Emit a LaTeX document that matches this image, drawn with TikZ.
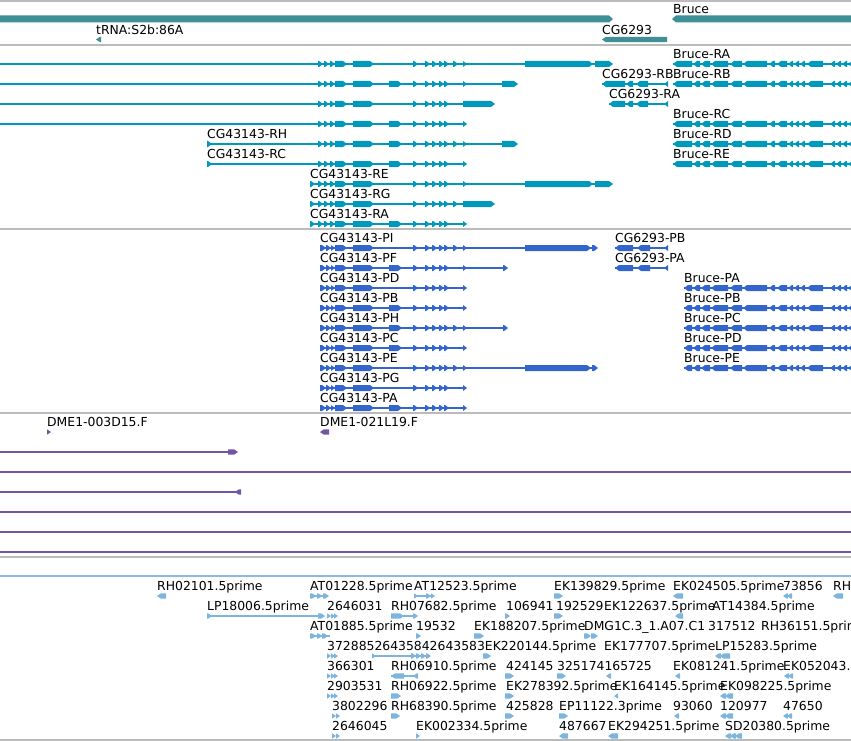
\documentclass[tikz,border=0pt]{standalone}
\usepackage{fontspec}
\setmainfont{DejaVu Sans}
\definecolor{gene}{HTML}{3F8F96}
\definecolor{tx}{HTML}{0099BB}
\definecolor{prot}{HTML}{3366CC}
\definecolor{dme}{HTML}{7355A8}
\definecolor{est}{HTML}{7DB5DF}
\definecolor{sep}{HTML}{BBBBBB}
\definecolor{estsep}{HTML}{88BBDD}
\def\eh{3}
\newcommand\fwd[3]{\fill ({#1},{#3-\eh}) -- ({max(#1,#2-4)},{#3-\eh}) -- ({#2},{#3}) -- ({max(#1,#2-4)},{#3+\eh}) -- ({#1},{#3+\eh}) -- cycle;}
\newcommand\rev[3]{\fill ({#2},{#3-\eh}) -- ({min(#2,#1+4)},{#3-\eh}) -- ({#1},{#3}) -- ({min(#2,#1+4)},{#3+\eh}) -- ({#2},{#3+\eh}) -- cycle;}
\newcommand\hl[3]{\draw ({#1},{#3}) -- ({#2},{#3});}
\newcommand\lab[3]{\node[lbl] at ({#1},{#2-5.4}) {#3};}
% CG43143 pieces
\newcommand\cgA[1]{\fwd{318}{323}{#1}\fwd{324}{329}{#1}\fwd{330}{335}{#1}\fwd{335}{347}{#1}\fwd{353}{374}{#1}}
\newcommand\cgP[1]{\fwd{320}{326}{#1}\fwd{326}{331}{#1}\fwd{331}{335}{#1}\fwd{335}{347}{#1}\fwd{353}{374}{#1}}
\newcommand\cgS[1]{\fwd{389}{402}{#1}}
\newcommand\cgM[1]{\fwd{413}{418}{#1}\fwd{425}{430}{#1}\fwd{432}{437}{#1}\fwd{439}{444}{#1}\fwd{444}{449}{#1}}
\newcommand\cgT[1]{\fwd{453}{458}{#1}}
\newcommand\cgL[1]{\fwd{463}{467}{#1}}
% Bruce pattern
\newcommand\brpat[2]{\hl{#2}{851}{#1}%
 \rev{#2}{692}{#1}\rev{693}{700}{#1}\rev{701}{710}{#1}\rev{711}{728}{#1}\rev{730}{742}{#1}%
 \rev{743}{767}{#1}\rev{769}{775}{#1}\rev{777}{787}{#1}\rev{788}{793}{#1}\rev{794}{799}{#1}%
 \rev{800}{805}{#1}\rev{807}{823}{#1}\rev{830}{835}{#1}\rev{836}{841}{#1}\rev{842}{847}{#1}\rev{848}{853}{#1}}
% CG6293 pattern
\newcommand\cgsix[2]{\hl{#2}{667}{#1}\rev{#2}{625}{#1}\rev{626}{633}{#1}\rev{636}{648}{#1}\rev{664}{668}{#1}}
\begin{document}
\begin{tikzpicture}[x=1pt,y=-1pt,
  lbl/.style={anchor=base west,inner sep=0pt,font=\fontsize{12.4}{14}\selectfont},
  sepl/.style={draw=sep,line width=1.3pt}]
\useasboundingbox (0,0) rectangle (851,741);
\clip (0,0) rectangle (851,741);
\fill[white] (0,0) rectangle (851,741);
% separators
\foreach \yy in {1,45,229,413,557,740} {\draw[sepl] (0,\yy) -- (851,\yy);}
\draw[estsep,line width=1.3pt] (0,576) -- (851,576);

% ---------- gene track ----------
\begin{scope}[fill=gene]
 \def\eh{3.5}
 \fwd{-10}{613}{19}
 \rev{672}{860}{19}
 \def\eh{2.7}
 \rev{96}{101}{39.5}
 \rev{602}{667}{39.5}
\end{scope}
\lab{673}{19}{Bruce}
\lab{96}{39.5}{tRNA:S2b:86A}
\lab{602}{39.5}{CG6293}

% ---------- transcript track ----------
\begin{scope}[draw=tx,fill=tx,line width=1.2pt]
 % row 1
 \hl{0}{600}{64}\cgA{64}\cgM{64}\cgT{64}\cgL{64}\fwd{525}{593}{64}\fwd{595}{613}{64}
 % row 2
 \hl{0}{505}{84}\cgA{84}\cgS{84}\cgM{84}\cgL{84}\fwd{502}{518}{84}
 % row 3
 \hl{0}{470}{104}\cgA{104}\cgM{104}\fwd{463}{495}{104}
 % row 4
 \hl{0}{465}{124}\cgA{124}\cgS{124}\cgM{124}\cgL{124}
 % RH
 \hl{207}{505}{144}\fwd{207}{212}{144}\cgA{144}\cgS{144}\cgM{144}\cgT{144}\cgL{144}\fwd{502}{518}{144}
 % RC
 \hl{207}{465}{164}\fwd{207}{212}{164}\cgA{164}\cgS{164}\cgM{164}\cgL{164}
 % RE
 \hl{310}{600}{184}\fwd{310}{315}{184}\cgA{184}\cgM{184}\cgL{184}\fwd{525}{593}{184}\fwd{595}{613}{184}
 % RG
 \hl{310}{470}{204}\fwd{310}{315}{204}\cgA{204}\cgM{204}\cgT{204}\fwd{463}{495}{204}
 % RA
 \hl{310}{465}{224}\fwd{310}{315}{224}\cgA{224}\cgS{224}\cgM{224}\cgL{224}
 % CG6293
 \cgsix{84}{602}
 \cgsix{104}{609}
 % Bruce
 \foreach \yy in {64,84,124,144,164} {\brpat{\yy}{673}}
\end{scope}
\lab{673}{64}{Bruce-RA}
\lab{602}{84}{CG6293-RB}
\lab{673}{84}{Bruce-RB}
\lab{609}{104}{CG6293-RA}
\lab{673}{124}{Bruce-RC}
\lab{207}{144}{CG43143-RH}
\lab{673}{144}{Bruce-RD}
\lab{207}{164}{CG43143-RC}
\lab{673}{164}{Bruce-RE}
\lab{310}{184}{CG43143-RE}
\lab{310}{204}{CG43143-RG}
\lab{310}{224}{CG43143-RA}

% ---------- protein track ----------
\begin{scope}[draw=prot,fill=prot,line width=1.2pt]
 % PI
 \hl{320}{596}{248}\cgP{248}\cgM{248}\cgT{248}\cgL{248}\fwd{525}{591}{248}\fwd{592}{598}{248}
 % PF
 \hl{320}{506}{268}\cgP{268}\cgS{268}\cgM{268}\cgL{268}\fwd{503}{508}{268}
 % PD
 \hl{320}{465}{288}\cgP{288}\cgM{288}\cgL{288}
 % PB
 \hl{320}{465}{308}\cgP{308}\cgS{308}\cgM{308}\cgL{308}
 % PH
 \hl{320}{506}{328}\cgP{328}\cgS{328}\cgM{328}\cgT{328}\cgL{328}\fwd{503}{508}{328}
 % PC
 \hl{320}{465}{348}\cgP{348}\cgS{348}\cgM{348}\cgL{348}
 % PE
 \hl{320}{596}{368}\cgP{368}\cgM{368}\cgT{368}\cgL{368}\fwd{525}{591}{368}\fwd{592}{598}{368}
 % PG
 \hl{320}{465}{388}\cgP{388}\cgM{388}\cgL{388}
 % PA
 \hl{320}{465}{408}\cgP{408}\cgS{408}\cgM{408}\cgL{408}
 % CG6293 proteins
 \foreach \yy in {248,268} {\hl{615}{667}{\yy}\rev{615}{633}{\yy}\rev{637}{650}{\yy}\rev{664}{668}{\yy}}
 % Bruce proteins
 \foreach \yy in {288,308,328,348,368} {\brpat{\yy}{684}}
\end{scope}
\lab{320}{248}{CG43143-PI}
\lab{320}{268}{CG43143-PF}
\lab{320}{288}{CG43143-PD}
\lab{320}{308}{CG43143-PB}
\lab{320}{328}{CG43143-PH}
\lab{320}{348}{CG43143-PC}
\lab{320}{368}{CG43143-PE}
\lab{320}{388}{CG43143-PG}
\lab{320}{408}{CG43143-PA}
\lab{615}{248}{CG6293-PB}
\lab{615}{268}{CG6293-PA}
\lab{684}{288}{Bruce-PA}
\lab{684}{308}{Bruce-PB}
\lab{684}{328}{Bruce-PC}
\lab{684}{348}{Bruce-PD}
\lab{684}{368}{Bruce-PE}

% ---------- DME track ----------
\begin{scope}[draw=dme,fill=dme,line width=1.3pt]
 \def\eh{2.7}
 \fwd{47}{51}{432}
 \rev{320}{329}{432}
 \hl{0}{230}{452}\fwd{228}{238}{452}
 \hl{0}{851}{472}
 \hl{0}{238}{492}\rev{235}{241}{492}
 \hl{0}{851}{512}
 \hl{0}{851}{532}
 \hl{0}{851}{552}
\end{scope}
\lab{47}{432}{DME1-003D15.F}
\lab{320}{432}{DME1-021L19.F}

% ---------- EST track ----------
\begin{scope}[draw=est,fill=est,line width=1.2pt]
 \def\eh{2.7}
 % row 596
 \rev{157}{166}{596}
 \hl{310}{328}{596}\fwd{310}{316}{596}\fwd{317}{322}{596}\fwd{323}{329}{596}
 \hl{414}{431}{596}\fwd{414}{418}{596}\fwd{426}{431}{596}\fwd{431}{435}{596}
 \fwd{554}{563}{596}
 \rev{673}{683}{596}
 \rev{783}{788}{596}\rev{787}{792}{596}
 \rev{833}{843}{596}
 % row 616
 \hl{207}{320}{616}\fwd{207}{212}{616}\fwd{318}{325}{616}
 \fwd{327}{331}{616}\fwd{331}{335}{616}\fwd{334}{338}{616}
 \hl{391}{416}{616}\fwd{391}{404}{616}\fwd{413}{418}{616}
 \fwd{505}{510}{616}
 \fwd{554}{563}{616}
 \rev{675}{683}{616}
 % row 636
 \hl{310}{330}{636}\fwd{310}{316}{636}\fwd{317}{322}{636}\fwd{322}{328}{636}
 \fwd{416}{421}{636}
 \fwd{474}{484}{636}
 \fwd{584}{591}{636}\fwd{591}{598}{636}
 % row 656
 \fwd{327}{331}{656}\fwd{331}{335}{656}\fwd{334}{338}{656}
 \hl{372}{428}{656}\fwd{372}{376}{656}\fwd{411}{416}{656}\fwd{416}{421}{656}\fwd{421}{426}{656}\fwd{426}{431}{656}
 \fwd{483}{491}{656}
 \rev{715}{721}{656}\rev{720}{730}{656}
 % row 676
 \fwd{327}{331}{676}\fwd{331}{335}{676}\fwd{334}{338}{676}
 \hl{391}{418}{676}\rev{391}{404}{676}\rev{413}{418}{676}
 \fwd{505}{514}{676}
 \fwd{557}{566}{676}
 \rev{606}{611}{676}
 \rev{675}{680}{676}
 \rev{784}{789}{676}\rev{788}{793}{676}
 % row 696
 \fwd{327}{331}{696}\fwd{331}{335}{696}\fwd{334}{338}{696}
 \fwd{391}{401}{696}
 \fwd{505}{514}{696}
 \rev{614}{618}{696}
 \rev{720}{726}{696}\rev{725}{733}{696}
 % row 716
 \fwd{332}{336}{716}\fwd{336}{340}{716}
 \fwd{391}{400}{716}
 \fwd{505}{514}{716}
 \fwd{559}{568}{716}
 \rev{674}{679}{716}
 \rev{720}{726}{716}\rev{725}{733}{716}
 \rev{783}{788}{716}\rev{787}{792}{716}
 % row 736
 \fwd{332}{336}{736}\fwd{336}{340}{736}
 \fwd{416}{420}{736}
 \rev{559}{568}{736}
 \rev{608}{618}{736}
 \rev{725}{731}{736}\rev{730}{736}{736}\rev{735}{742}{736}
\end{scope}
% EST labels
\lab{157}{596}{RH02101.5prime}
\lab{310}{596}{AT01228.5prime}
\lab{414}{596}{AT12523.5prime}
\lab{554}{596}{EK139829.5prime}
\lab{673}{596}{EK024505.5prime}
\lab{783}{596}{73856}
\lab{833}{596}{RH3}
\lab{207}{616}{LP18006.5prime}
\lab{327}{616}{2646031}
\lab{391}{616}{RH07682.5prime}
\lab{506}{616}{106941}
\lab{556}{616}{192529}
\lab{604}{616}{EK122637.5prime}
\lab{712}{616}{AT14384.5prime}
\lab{310}{636}{AT01885.5prime}
\lab{416}{636}{19532}
\lab{474}{636}{EK188207.5prime}
\lab{584}{636}{DMG1C.3\_1.A07.C1}
\lab{708}{636}{317512}
\lab{761}{636}{RH36151.5prime}
\lab{327}{656}{37288526435842643583EK220144.5prime}
\lab{604}{656}{EK177707.5prime}
\lab{715}{656}{LP15283.5prime}
\lab{327}{676}{366301}
\lab{391}{676}{RH06910.5prime}
\lab{506}{676}{424145}
\lab{557}{676}{325174165725}
\lab{673}{676}{EK081241.5prime}
\lab{783}{676}{EK052043.}
\lab{327}{696}{2903531}
\lab{391}{696}{RH06922.5prime}
\lab{506}{696}{EK278392.5prime}
\lab{614}{696}{EK164145.5prime}
\lab{720}{696}{EK098225.5prime}
\lab{332}{716}{3802296}
\lab{391}{716}{RH68390.5prime}
\lab{506}{716}{425828}
\lab{559}{716}{EP11122.3prime}
\lab{673}{716}{93060}
\lab{720}{716}{120977}
\lab{783}{716}{47650}
\lab{332}{736}{2646045}
\lab{416}{736}{EK002334.5prime}
\lab{559}{736}{487667}
\lab{608}{736}{EK294251.5prime}
\lab{725}{736}{SD20380.5prime}
\end{tikzpicture}
\end{document}
